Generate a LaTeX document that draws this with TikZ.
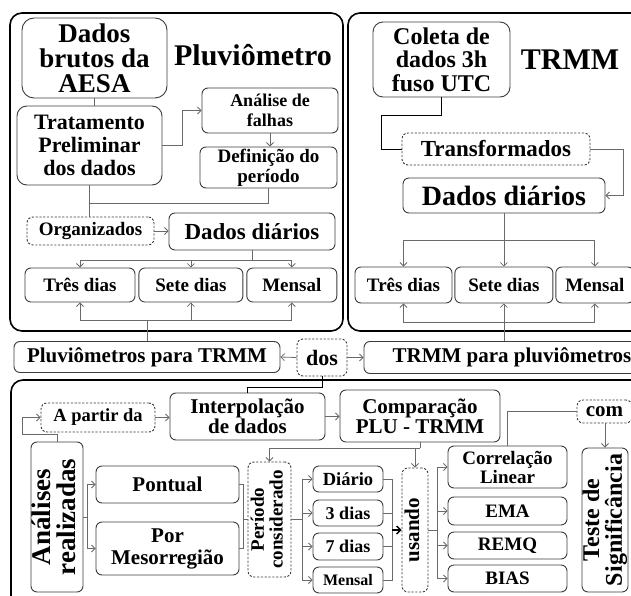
\documentclass[tikz,border=0pt]{standalone}
\usepackage{fontspec}
\setmainfont{Liberation Serif}
\usepackage{graphicx}
\usetikzlibrary{arrows.meta,positioning,calc}
\definecolor{boxgray}{HTML}{3C3C3C}
\definecolor{linegray}{HTML}{6A6A6A}
\newcommand{\fsz}[2]{\fontsize{#1}{#2}\selectfont\bfseries}
\newcommand{\vtext}[1]{\rotatebox{90}{\begin{tabular}{@{}c@{}}#1\end{tabular}}}
\tikzset{
       arr/.style = {-{Straight Barb[length=3.5pt,width=7pt]}, line width=0.8pt, draw=linegray},
    bigarr/.style = {-{Straight Barb[length=4pt,width=8pt]}, line width=1.4pt, draw=black},
      link/.style = {line width=0.8pt, draw=linegray},
      base/.style = {draw=boxgray, line width=0.9pt, rounded corners=6pt,
                     fill=white, align=center, inner sep=0pt},
  linkword/.style = {base, dash pattern=on 2.2pt off 1.6pt},
     panel/.style = {draw=black, line width=1.6pt, rounded corners=12pt},
     title/.style = {font=\fsz{30}{30}},
        }
\begin{document}
\begin{tikzpicture}[x=1pt,y=-1pt]
\useasboundingbox (0,0) rectangle (631,596);
\clip (0,0) rectangle (631,596);

% frames
\draw[panel] (10,13) rectangle (343,331);
\draw[panel] (348,13) rectangle (670,331);
\draw[panel] (11,380) rectangle (670,640);

% Pluviometro
\node[base, rounded corners=12pt, minimum width=145, minimum height=80, font=\fsz{27}{25}] (brutos) at (94.5,58) {Dados\\brutos da\\AESA};
\node[title] (pluvtitle) at (253,55) {Pluviômetro};
\node[base, rounded corners=10pt, minimum width=145, minimum height=79, font=\fsz{22}{23}] (tratamento) at (89.5,145.5) {Tratamento\\Preliminar\\dos dados};
\node[base, minimum width=136, minimum height=45, font=\fsz{18}{20}] (analise) at (270,110.5) {Análise de\\falhas};
\node[base, minimum width=137, minimum height=41, font=\fsz{19}{20}] (definicao) at (268.5,167.5) {Definição do\\período};
\node[linkword, minimum width=127, minimum height=28, font=\fsz{19}{19}] (organizados) at (90.5,231) {Organizados};
\node[base, minimum width=166, minimum height=37, font=\fsz{23}{23}] (diariosP) at (252,231.5) {Dados diários};
\node[base, minimum width=110, minimum height=34, font=\fsz{19}{19}] (tresP) at (80,285) {Três dias};
\node[base, minimum width=104, minimum height=34, font=\fsz{19}{19}, right=3pt of tresP] (seteP) {Sete dias};
\node[base, minimum width=90, minimum height=34, font=\fsz{19}{19}, right=3pt of seteP] (mensalP) {Mensal};

% TRMM
\node[base, rounded corners=10pt, minimum width=137, minimum height=75, font=\fsz{24}{23.5}] (coleta) at (441.5,59.5) {Coleta de\\dados 3h\\fuso UTC};
\node[title] (trmmtitle) at (570,60) {TRMM};
\node[linkword, minimum width=188, minimum height=32, font=\fsz{23}{23}] (transf) at (496,149) {Transformados};
\node[base, minimum width=202, minimum height=35, font=\fsz{28}{28}] (diariosT) at (504,195.5) {Dados diários};
\node[base, minimum width=97, minimum height=36, font=\fsz{19}{19}] (tresT) at (403.5,285) {Três dias};
\node[base, minimum width=98, minimum height=36, font=\fsz{19}{19}, right=2pt of tresT] (seteT) {Sete dias};
\node[base, minimum width=78, minimum height=36, font=\fsz{19}{19}, right=2pt of seteT] (mensalT) {Mensal};

% ligacao
\node[base, minimum width=266, minimum height=31, font=\fsz{21}{21}] (pluvtrmm) at (147,357) {Pluviômetros para TRMM};
\node[linkword, minimum width=50, minimum height=37, font=\fsz{22}{22}] (dos) at (322,357.5) {dos};
\node[base, minimum width=296, minimum height=32, font=\fsz{21}{21}] (trmmpluv) at (512,357.5) {TRMM para pluviômetros};

% analises
\node[linkword, minimum width=114, minimum height=29, font=\fsz{18.5}{19}] (apartir) at (98,417.5) {A partir da};
\node[base, minimum width=155, minimum height=47, font=\fsz{21}{20}] (interp) at (247.5,416.5) {Interpolação\\de dados};
\node[base, minimum width=160, minimum height=52, font=\fsz{21}{20}] (compar) at (420,416) {Comparação\\PLU - TRMM};
\node[base, minimum width=52, minimum height=150, font=\fsz{27}{23}] (analises) at (57,517) {\vtext{Análises\\realizadas}};
\node[base, minimum width=143, minimum height=37, font=\fsz{21}{21}] (pontual) at (167.5,484.5) {Pontual};
\node[base, minimum width=143, minimum height=53, font=\fsz{21}{22}] (meso) at (167.5,548.5) {Por\\Mesorregião};
\node[linkword, minimum width=43, minimum height=115, font=\fsz{19}{18.5}] (periodo) at (269.5,519.5) {\vtext{Período\\considerado}};
\node[base, minimum width=70, minimum height=26, font=\fsz{18.5}{18}] (diario) at (348,479) {Diário};
\node[base, minimum width=70, minimum height=26, font=\fsz{18}{18}] (dias3) at (348,513) {3 dias};
\node[base, minimum width=70, minimum height=27, font=\fsz{18}{18}] (dias7) at (348,546.5) {7 dias};
\node[base, minimum width=70, minimum height=26, font=\fsz{16}{16}] (mensalB) at (348,580) {Mensal};
\node[linkword, minimum width=26, minimum height=124, font=\fsz{21}{21}] (usando) at (415,530) {\vtext{usando}};
\node[base, minimum width=119, minimum height=42, font=\fsz{19}{19}] (correl) at (507.5,467) {Correlação\\Linear};
\node[base, minimum width=119, minimum height=28, font=\fsz{19}{19}] (ema) at (507.5,511) {EMA};
\node[base, minimum width=119, minimum height=27, font=\fsz{19}{19}] (remq) at (507.5,545.5) {REMQ};
\node[base, minimum width=119, minimum height=27, font=\fsz{19}{19}] (bias) at (507.5,578.5) {BIAS};
\node[linkword, minimum width=55, minimum height=23, font=\fsz{21}{21}] (com) at (604.5,411.5) {com};
\node[base, minimum width=46, minimum height=144, font=\fsz{24}{19.5}] (teste) at (605,520) {\vtext{Teste de\\Significância}};

% conexoes pluviometro
\draw[link] (brutos.south) -- (brutos.south |- tratamento.north);
\draw[arr] (tratamento.east) -- ++(20,0) |- (analise.west);
\draw[arr] (analise.south) -- (analise.south |- definicao.north);
\draw[link] (definicao.south) -- ++(0,15) -| (tratamento.south);
\draw[link] (tratamento.south) -- (tratamento.south |- organizados.north);
\draw[arr] (organizados.east) -- (organizados.east -| diariosP.west);
\draw[link] (diariosP.south) -- ++(0,10) coordinate (dp);
\foreach \n in {tresP,seteP,mensalP} \draw[arr] (dp) -| (\n.north);
\draw[link] (pluvtrmm.north) -- ++(0,-21) coordinate (pp);
\foreach \n in {tresP,seteP,mensalP} \draw[arr] (pp) -| (\n.south);

% conexoes TRMM
\draw[link, draw=black] (coleta.south) -- ++(0,18) -| ($(transf.west)+(-20,0)$) -- (transf.west);
\draw[arr] (transf.east) -- ++(33,0) |- (diariosT.east);
\draw[link] (diariosT.south) -- ++(0,26.5) coordinate (dt);
\foreach \n in {tresT,seteT,mensalT} \draw[arr] (dt) -| (\n.north);
\draw[link] (trmmpluv.north -| seteT.south) -- ++(0,-19) coordinate (tp);
\foreach \n in {tresT,seteT,mensalT} \draw[arr] (tp) -| (\n.south);

% dos
\draw[arr] (dos.west) -- (pluvtrmm.east);
\draw[arr] (dos.east) -- (trmmpluv.west);
\draw[link, draw=black] (dos.south) -- ++(0,10.5) -| (interp.north);

% conexoes analises
\draw[arr] (analises.north) -- ++(0,-7) -- ++(-35,0) |- (apartir.west);
\draw[arr] (apartir.east) -- (apartir.east -| interp.west);
\draw[arr] (interp.east) -- (interp.east -| compar.west);
\draw[link] (analises.east) -- ++(4,0) coordinate (ae);
\draw[arr] (ae) |- (pontual.west);
\draw[arr] (ae) |- (meso.west);
\draw[link] (pontual.east) -- ++(4,0) coordinate (pe) |- (meso.east);
\draw[link] (periodo.west) -- (periodo.west -| pe);
\draw[link] (compar.south) -- ++(0,6) coordinate (cs);
\draw[arr] (cs) -| (periodo.north);
\draw[arr] (cs) -| (usando.north);
\draw[link] (periodo.east) -- ++(11,0) coordinate (pr);
\foreach \n in {diario,dias3,dias7,mensalB} \draw[arr] (pr) |- (\n.west);
\draw[link] (diario.east) -- ++(9,0) coordinate (de) |- (mensalB.east);
\draw[link] (dias3.east) -- (dias3.east -| de);
\draw[link] (dias7.east) -- (dias7.east -| de);
\draw[bigarr] (usando.west -| de) -- (usando.west);
\draw[link] (usando.east) -- ++(9,0) coordinate (ue);
\foreach \n in {correl,ema,remq,bias} \draw[arr] (ue) |- (\n.west);
\draw[link] (com.west) -| (correl.north);
\draw[arr] (com.south -| teste.north) -- (teste.north);
\end{tikzpicture}
\end{document}
